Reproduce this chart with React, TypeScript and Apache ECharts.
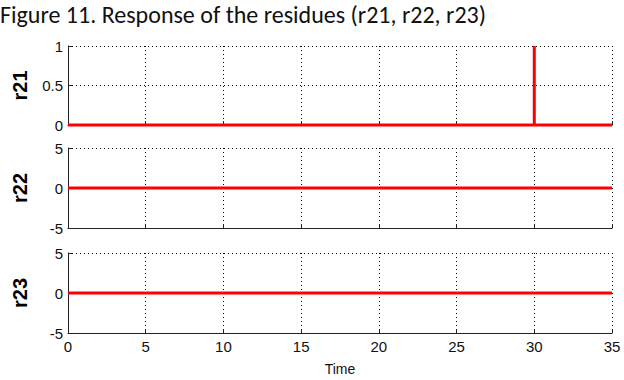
import React, { useEffect, useRef } from "react";
import * as echarts from "echarts";

const title = "Figure 11. Response of the residues (r21, r22, r23)";
const xTicks = [0, 5, 10, 15, 20, 25, 30, 35];
const r21Time = [0, 30, 30, 30, 35];
const r21Values = [0, 0, 1, 0, 0];
const r22Time = [0, 35];
const r22Values = [0, 0];
const r23Time = [0, 35];
const r23Values = [0, 0];
const panelNames = ["r21", "r22", "r23"];
const yRanges = [
  { min: 0, max: 1, interval: 0.5 },
  { min: -5, max: 5, interval: 5 },
  { min: -5, max: 5, interval: 5 },
];

const tickFont = "'Liberation Sans', Arial, sans-serif";

export default function App() {
  const ref = useRef<HTMLDivElement>(null);
  useEffect(() => {
    if (!ref.current) return;
    const chart = echarts.init(ref.current, undefined, { renderer: "svg" });
    const tops = [46, 148, 253];
    const heights = [79, 80, 80];
    const grids = tops.map((t, i) => ({ left: 68, width: 544, top: t, height: heights[i] }));
    const xAxes = grids.map((_, i) => ({
      type: "value",
      gridIndex: i,
      min: xTicks[0],
      max: xTicks[xTicks.length - 1],
      interval: 5,
      axisLine: { show: true, onZero: false, lineStyle: { color: "#222", width: 1 } },
      axisTick: { show: true, inside: true, length: 4, lineStyle: { color: "#222" } },
      axisLabel: {
        show: i === 2,
        color: "#111",
        fontSize: 15,
        fontFamily: tickFont,
        margin: 6,
      },
      splitLine: { show: true, lineStyle: { type: [1, 3], color: "#000", width: 1 } },
      name: i === 2 ? "Time" : "",
      nameLocation: "middle",
      nameGap: 29,
      nameTextStyle: { color: "#111", fontSize: 14, fontFamily: tickFont },
    }));
    const yAxes = grids.map((_, i) => ({
      type: "value",
      gridIndex: i,
      min: yRanges[i].min,
      max: yRanges[i].max,
      interval: yRanges[i].interval,
      axisLine: { show: true, lineStyle: { color: "#222", width: 1 } },
      axisTick: { show: true, inside: true, length: 4, lineStyle: { color: "#222" } },
      axisLabel: {
        color: "#111",
        fontSize: 15,
        fontFamily: tickFont,
        margin: 5,
      },
      splitLine: { show: true, lineStyle: { type: [1, 3], color: "#000", width: 1 } },
      name: panelNames[i],
      nameLocation: "middle",
      nameGap: 38,
      nameRotate: 90,
      nameTextStyle: {
        color: "#000",
        fontSize: 20,
        fontWeight: "bold",
        fontFamily: "'Liberation Sans', Arial, sans-serif",
      },
    }));
    const mk = (t: number[], v: number[]) => t.map((x, k) => [x, v[k]]);
    const datas = [mk(r21Time, r21Values), mk(r22Time, r22Values), mk(r23Time, r23Values)];
    chart.setOption({
      animation: false,
      title: {
        text: title,
        left: 0,
        top: 2,
        textStyle: {
          fontSize: 24,
          fontWeight: "normal",
          color: "#111",
          fontFamily: "Carlito, 'Open Sans', sans-serif",
        },
        padding: 0,
      },
      grid: grids,
      xAxis: xAxes,
      yAxis: yAxes,
      series: datas.map((d, i) => ({
        type: "line",
        xAxisIndex: i,
        yAxisIndex: i,
        data: d,
        showSymbol: false,
        symbol: "none",
        lineStyle: { color: "#ff0000", width: 3 },
        clip: false,
      })),
    });
    return () => chart.dispose();
  }, []);
  return (
    <div
      ref={ref}
      style={{ position: "fixed", left: 0, top: 0, width: 624, height: 380, background: "#fff" }}
    />
  );
}
